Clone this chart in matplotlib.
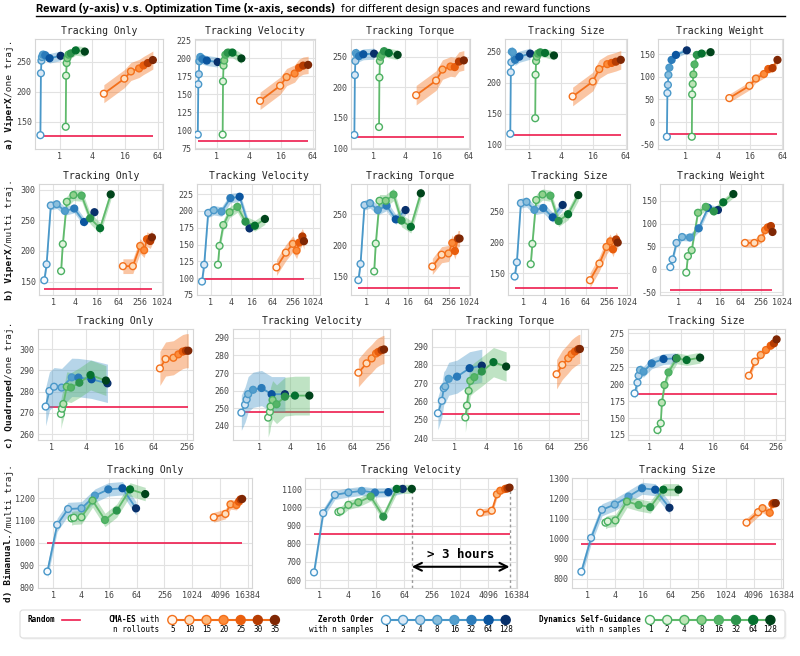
import numpy as np
import matplotlib
matplotlib.use("Agg")
import matplotlib.pyplot as plt
from matplotlib.patches import FancyBboxPatch
from matplotlib.ticker import FixedLocator, MultipleLocator, FuncFormatter

plt.rcParams["font.family"] = "DejaVu Sans Mono"
plt.rcParams["axes.unicode_minus"] = False

# ------------------------------------------------------------------ data
# legend labels
cma_rollouts = [5, 10, 15, 20, 25, 30, 35]
zo_samples = [1, 2, 4, 8, 16, 32, 64, 128]
dsg_samples = [1, 2, 4, 8, 16, 32, 64, 128]

# a) ViperX / one trajectory  (time in seconds, same for the whole row)
a_titles = ["Tracking Only", "Tracking Velocity", "Tracking Torque", "Tracking Size", "Tracking Weight"]
a_zo_time = [0.44, 0.45, 0.46, 0.47, 0.49, 0.54, 0.65, 1.04]
a_dsg_time = [1.29, 1.31, 1.34, 1.38, 1.45, 1.6, 1.97, 2.9]
a_cma_time = [6.5, 15.5, 20.5, 29, 35, 42, 52]
a_zo = [[128, 231, 252, 258, 262, 261, 256, 260],
        [94, 164, 178, 196, 202, 199, 197, 195],
        [122, 220, 243, 256, 254, 251, 254, 255],
        [118, 217, 233, 250, 249, 237, 242, 247],
        [-32, 64, 82, 104, 120, 137, 148, 158]]
a_dsg = [[142, 227, 248, 256, 262, 264, 269, 267],
         [94, 168, 190, 197, 205, 208, 208, 200],
         [135, 216, 243, 250, 253, 259, 256, 253],
         [143, 213, 235, 242, 247, 249, 248, 244],
         [-32, 61, 84, 105, 127, 148, 151, 154]]
a_cma = [[197, 222, 234, 239, 244, 248, 253],
         [141, 162, 174, 179, 187, 190, 191],
         [187, 211, 229, 234, 233, 242, 244],
         [178, 202, 222, 230, 232, 234, 237],
         [53, 80, 96, 106, 117, 119, 137]]
a_zo_band = [8, 7, 9, 9, 6]
a_dsg_band = [8, 7, 8, 7, 7]
a_cma_band = [15, 12, 16, 15, 9]
a_random = [126, 85, 119, 116, -26]

# b) ViperX / multi trajectory
b_titles = ["Tracking Only", "Tracking Velocity", "Tracking Torque", "Tracking Size", "Tracking Weight"]
b_zo_time = [0.56, 0.65, 0.85, 1.24, 2.1, 3.8, 7.1, 13.8]
b_dsg_time = [1.64, 1.83, 2.36, 3.6, 6.1, 10.5, 19.8, 39]
b_cma_time = [85, 160, 256, 330, 395, 487, 542]
b_zo = [[152, 178, 274, 276, 265, 269, 247, 263],
        [95, 120, 197, 201, 199, 219, 221, 174],
        [144, 170, 265, 268, 257, 264, 242, 257],
        [145, 168, 264, 266, 253, 256, 241, 261],
        [5, 22, 58, 71, 70, 90, 135, 130]]
b_dsg = [[167, 211, 280, 291, 290, 253, 237, 292],
         [120, 148, 179, 198, 206, 184, 178, 188],
         [158, 203, 272, 272, 282, 240, 230, 284],
         [165, 198, 269, 278, 276, 235, 246, 277],
         [-7, 29, 42, 124, 137, 127, 147, 165]]
b_cma = [[175, 175, 208, 201, 219, 216, 222],
         [116, 138, 151, 141, 153, 162, 155],
         [166, 185, 187, 204, 191, 211, 211],
         [139, 166, 193, 202, 189, 205, 200],
         [58, 58, 68, 86, 92, 95, 82]]
b_zo_band = [7, 7, 8, 8, 8]
b_dsg_band = [9, 8, 10, 9, 8]
b_cma_band = [12, 12, 13, 12, 9]
b_random = [138, 99, 132, 126, -46]

# c) Quadruped / one trajectory (times differ per panel)
c_titles = ["Tracking Only", "Tracking Velocity", "Tracking Torque", "Tracking Size"]
c_zo_time = [[0.78, 0.91, 1.1, 1.5, 2.27, 2.98, 5.1, 9.8],
             [0.45, 0.53, 0.57, 0.61, 0.76, 1.11, 1.74, 3.15],
             [0.48, 0.57, 0.62, 0.66, 0.77, 1.11, 1.93, 3.3],
             [0.52, 0.59, 0.62, 0.66, 0.77, 1.1, 1.85, 3.2]]
c_dsg_time = [[1.46, 1.52, 1.61, 1.85, 2.2, 3.1, 4.9, 9.2],
              [1.49, 1.61, 1.66, 1.82, 2.17, 3.15, 4.93, 9.4],
              [1.6, 1.72, 1.85, 1.99, 2.37, 3.3, 5.5, 9.6],
              [1.42, 1.64, 1.72, 1.93, 2.3, 3.3, 5.1, 9.2]]
c_cma_time = [[84, 106, 146, 179, 214, 244, 269],
              [84, 121, 152, 185, 205, 237, 264],
              [88, 113, 147, 170, 197, 228, 245],
              [78, 102, 131, 165, 203, 234, 263]]
c_zo = [[273, 280.3, 282.3, 281.9, 286.7, 286.6, 285.8, 283.9],
        [247.5, 252, 255, 258, 260.5, 261.5, 258, 258],
        [253.6, 260.4, 267.3, 268.2, 272.4, 273.6, 278.2, 279.6],
        [186.4, 202.2, 212.5, 220.9, 218.4, 230.7, 237.1, 238.1]]
c_dsg = [[269.5, 272, 274.2, 282.3, 281.9, 284.2, 287.8, 285.2],
         [244.7, 248, 251, 254.7, 252.3, 256.6, 257.2, 257.2],
         [251.3, 257.8, 265.8, 271.3, 273.3, 276.4, 281.5, 279.1],
         [132.3, 142.2, 172.7, 198.7, 217.4, 238.1, 235.6, 239.1]]
c_cma = [[290.9, 295.3, 295.9, 297.5, 298.8, 299.2, 299.2],
         [270.2, 275.5, 278.3, 281.1, 282, 283, 283.4],
         [274.9, 280, 283.6, 285.8, 287.3, 288.5, 288.7],
         [212.5, 233.2, 243, 250.4, 256.8, 260.2, 266.1]]
c_zo_band = [9, 10, 9, 8]
c_dsg_band = [7, 11, 8, 8]
c_cma_band = [8, 8, 8, 5]
c_random = [273, 247.7, 253.3, 185]

# d) Bimanual / multi trajectory
d_titles = ["Tracking Only", "Tracking Velocity", "Tracking Size"]
d_zo_time = [[0.75, 1.22, 2.1, 4.1, 8, 15.6, 31.5, 62],
             [0.75, 1.18, 2.1, 4.1, 7.9, 15.2, 29.5, 60],
             [0.75, 1.22, 2.1, 3.97, 7.9, 15.5, 30, 61]]
d_dsg_time = [[2.5, 2.8, 4.1, 7.1, 13.2, 23.7, 46, 98],
              [2.5, 2.8, 4.1, 6.7, 12.3, 23, 44.6, 94],
              [2.5, 2.8, 4.1, 7.3, 13.1, 23.4, 45, 96]]
d_cma_time = [[2980, 5330, 6840, 9220, 10370, 11270, 12250],
              [2760, 4900, 6300, 7430, 9500, 10650, 11760],
              [2860, 5110, 6350, 9140, 10420, 11150, 12330]]
d_zo = [[872, 1081, 1152, 1155, 1212, 1240, 1245, 1155],
        [642, 968, 1069, 1082, 1091, 1082, 1084, 1102],
        [836, 1004, 1144, 1170, 1210, 1251, 1244, 1154]]
d_dsg = [[1110, 1113, 1115, 1190, 1103, 1145, 1240, 1219],
         [975, 980, 1014, 1028, 1060, 949, 1102, 1102],
         [1080, 1086, 1091, 1185, 1168, 1157, 1244, 1244]]
d_cma = [[1115, 1130, 1173, 1170, 1185, 1195, 1197],
         [971, 982, 1072, 1092, 1102, 1105, 1109],
         [1080, 1132, 1152, 1129, 1173, 1177, 1177]]
d_zo_band = [30, 25, 30]
d_dsg_band = [30, 25, 30]
d_cma_band = [22, 20, 22]
d_random = [998, 852, 973]

# ------------------------------------------------------------------ layout (pixels)
a_layout = dict(rows=(39, 149), cols=[(35, 163), (195, 315), (351, 470), (505, 627), (658, 783)],
                xlims=[(0.35, 80), (0.39, 70), (0.38, 68), (0.35, 68), (0.3, 66)],
                ylims=[(105, 288), (74, 227), (99, 279), (93.5, 270.5), (-59, 183)],
                ysteps=[50, 25, 50, 50, 50])
b_layout = dict(rows=(184, 295), cols=[(39, 163), (197, 320), (351, 470), (508, 630), (660, 783)],
                xlims=[(0.4, 1100), (0.4, 1600), (0.34, 1100), (0.36, 1230), (0.28, 1100)],
                ylims=[(128, 309), (75, 240), (120, 299), (115, 295), (-56, 187)],
                ysteps=[50, 25, 50, 50, 50])
c_layout = dict(rows=(329, 440), cols=[(38, 193), (233, 390), (432, 588), (628, 785)],
                xlims=[(0.57, 326), (0.31, 345), (0.37, 350), (0.39, 380)],
                ylims=[(257.3, 309.4), (232, 295), (239, 299.6), (117.6, 281.4)],
                ysteps=[10, 10, 10, 25])
d_layout = dict(rows=(478, 588), cols=[(38, 252), (305, 517), (572, 783)],
                xlims=[(0.47, 20000), (0.48, 17000), (0.47, 17700)],
                ylims=[(798, 1291), (556, 1162), (755, 1302)],
                ysteps=[100, 100, 100])

W, H = 800, 656
RANDOM_C = "#ee1c4e"
BLUES, GREENS, ORANGES = plt.cm.Blues, plt.cm.Greens, plt.cm.Oranges


def per_panel(times, n):
    return times if isinstance(times[0], list) else [times] * n


def draw_series(ax, t, y, band, cmap, line_level=0.6):
    t = np.asarray(t, float)
    y = np.asarray(y, float)
    col = cmap(line_level)
    ax.fill_between(t, y - band, y + band, color=col, alpha=0.4, lw=0, zorder=2)
    ax.plot(t, y, color=col, lw=1.3, zorder=3)
    lv = np.linspace(0, 1, len(t))
    ax.scatter(t, y, s=24, c=cmap(lv), edgecolors=cmap(np.maximum(lv, 0.6)),
               linewidths=1.0, zorder=4)


fig = plt.figure(figsize=(W / 100, H / 100), dpi=100)
ov = fig.add_axes([0, 0, 1, 1])
ov.set_xlim(0, W)
ov.set_ylim(H, 0)
ov.axis("off")
renderer = fig.canvas.get_renderer()


def text_w(t):
    return t.get_window_extent(renderer).width


# title with underline
t1 = ov.text(36, 11.5, "Reward (y-axis) v.s. Optimization Time (x-axis, seconds)",
             family="Inter", weight="bold", size=8.5, va="baseline", ha="left")
t1.set_fontsize(8.5 * 300 / text_w(t1))
t2 = ov.text(36 + text_w(t1) + 6, 11.5, "for different design spaces and reward functions",
             family="Inter", size=t1.get_fontsize(), va="baseline", ha="left")
ov.plot([36, 785], [16, 16], color="black", lw=1.0)


def row_label(yc, bold, regular):
    r1 = ov.text(11.5, 0, bold, rotation=90, rotation_mode="anchor", ha="left",
                 va="baseline", weight="bold", size=6.8, color="#111111")
    r2 = ov.text(11.5, 0, regular, rotation=90, rotation_mode="anchor", ha="left",
                 va="baseline", size=6.8, color="#222222")
    h1 = r1.get_window_extent(renderer).height
    h2 = r2.get_window_extent(renderer).height
    y0 = yc + (h1 + h2) / 2
    r1.set_y(y0)
    r2.set_y(y0 - h1)


rows = [
    (("a) ViperX", "/one traj."), a_titles, a_layout, a_zo_time, a_zo, a_zo_band,
     a_dsg_time, a_dsg, a_dsg_band, a_cma_time, a_cma, a_cma_band, a_random),
    (("b) ViperX", "/multi traj."), b_titles, b_layout, b_zo_time, b_zo, b_zo_band,
     b_dsg_time, b_dsg, b_dsg_band, b_cma_time, b_cma, b_cma_band, b_random),
    (("c) Quadruped", "/one traj."), c_titles, c_layout, c_zo_time, c_zo, c_zo_band,
     c_dsg_time, c_dsg, c_dsg_band, c_cma_time, c_cma, c_cma_band, c_random),
    (("d) Bimanual.", "/multi traj."), d_titles, d_layout, d_zo_time, d_zo, d_zo_band,
     d_dsg_time, d_dsg, d_dsg_band, d_cma_time, d_cma, d_cma_band, d_random),
]

int_fmt = FuncFormatter(lambda v, p: f"{int(round(v))}")

for ri, (lab, titles, lay, zo_t, zo, zo_b, dsg_t, dsg, dsg_b, cma_t, cma, cma_b, rnd) in enumerate(rows):
    n = len(titles)
    top, bot = lay["rows"]
    row_label((top + bot) / 2, *lab)
    zo_t = per_panel(zo_t, n)
    dsg_t = per_panel(dsg_t, n)
    cma_t = per_panel(cma_t, n)
    for i in range(n):
        l, r = lay["cols"][i]
        ax = fig.add_axes([l / W, 1 - bot / H, (r - l) / W, (bot - top) / H])
        ax.set_xscale("log", base=2)
        ax.set_xlim(*lay["xlims"][i])
        ax.set_ylim(*lay["ylims"][i])
        lo, hi = lay["xlims"][i]
        ax.xaxis.set_major_locator(FixedLocator([4 ** k for k in range(0, 8) if lo <= 4 ** k <= hi * 1.02]))
        ax.xaxis.set_minor_locator(FixedLocator([]))
        ax.xaxis.set_major_formatter(int_fmt)
        ax.yaxis.set_major_locator(MultipleLocator(lay["ysteps"][i]))
        ax.yaxis.set_major_formatter(int_fmt)
        ax.grid(True, color="#e2e2e2", lw=0.8, zorder=0)
        ax.set_axisbelow(True)
        for sp in ax.spines.values():
            sp.set_color("#d6d6d6")
            sp.set_linewidth(0.8)
        ax.tick_params(length=0, labelsize=6, colors="#444444", pad=2.5)
        ax.set_title(titles[i], fontsize=7, pad=3.5, color="#222222")

        all_t = list(zo_t[i]) + list(dsg_t[i]) + list(cma_t[i])
        ax.hlines(rnd[i], min(all_t), max(all_t), color=RANDOM_C, lw=1.2, zorder=2)
        draw_series(ax, zo_t[i], zo[i], zo_b[i], BLUES)
        draw_series(ax, dsg_t[i], dsg[i], dsg_b[i], GREENS, 0.55)
        draw_series(ax, cma_t[i], cma[i], cma_b[i], ORANGES)

        # wall-clock gap annotation on the bimanual velocity panel
        if ri == 3 and i == 1:
            x0, y0 = dsg_t[i][-1], dsg[i][-1]
            x1, y1 = cma_t[i][-1], cma[i][-1]
            ymin = lay["ylims"][i][0]
            ax.vlines([x0, x1], ymin, [y0, y1], colors="#9a9a9a", lw=1.0,
                      linestyles=(0, (2, 2)), zorder=1)
            ya = 673
            ax.annotate("", xy=(x0, ya), xytext=(x1, ya),
                        arrowprops=dict(arrowstyle="<->", lw=1.5, color="black",
                                        mutation_scale=14, shrinkA=0, shrinkB=0))
            ax.text(np.sqrt(x0 * x1), 742, "> 3 hours", ha="center", va="center",
                    fontsize=9, weight="bold")

# ------------------------------------------------------------------ legend
ov.add_patch(FancyBboxPatch((21.5, 611.5), 765, 28, boxstyle="round,pad=0,rounding_size=3",
                            fc=(0, 0, 0, 0.05), ec="none", zorder=1))
ov.add_patch(FancyBboxPatch((20, 610), 765, 28, boxstyle="round,pad=0,rounding_size=3",
                            fc="white", ec="#dddddd", lw=0.8, zorder=2))
ov.text(27, 620, "Random", weight="bold", size=5.5, va="center", ha="left", zorder=3)
ov.plot([62, 80], [620, 620], color=RANDOM_C, lw=1.2, zorder=3)


def legend_group(xr, bold, regular, second, x0, step, cmap, labels, line_level=0.6):
    g2 = ov.text(xr, 620, regular, size=5.5, va="center", ha="right", zorder=3)
    ov.text(xr - text_w(g2), 620, bold, size=5.5, va="center", ha="right",
            weight="bold", zorder=3)
    ov.text(xr, 630, second, size=5.5, va="center", ha="right", zorder=3)
    xs = x0 + step * np.arange(len(labels))
    ys = np.full(len(labels), 620.0)
    ov.plot(xs, ys, color=cmap(line_level), lw=1.5, zorder=3)
    lv = np.linspace(0, 1, len(labels))
    ov.scatter(xs, ys, s=42, c=cmap(lv), edgecolors=cmap(np.maximum(lv, 0.6)),
               linewidths=1.0, zorder=4)
    for x, lb in zip(xs, labels):
        ov.text(x, 630, str(lb), size=5.5, va="center", ha="center", zorder=3)


legend_group(159, "CMA-ES", " with", "n rollouts", 172.3, 17.1, ORANGES, cma_rollouts)
legend_group(373.5, "Zeroth Order", "", "with n samples", 386, 17.1, BLUES, zo_samples)
legend_group(641, "Dynamics Self-Guidance", "", "with n samples", 650, 17.2, GREENS, dsg_samples, 0.55)

fig.savefig("out.png", dpi=100)
